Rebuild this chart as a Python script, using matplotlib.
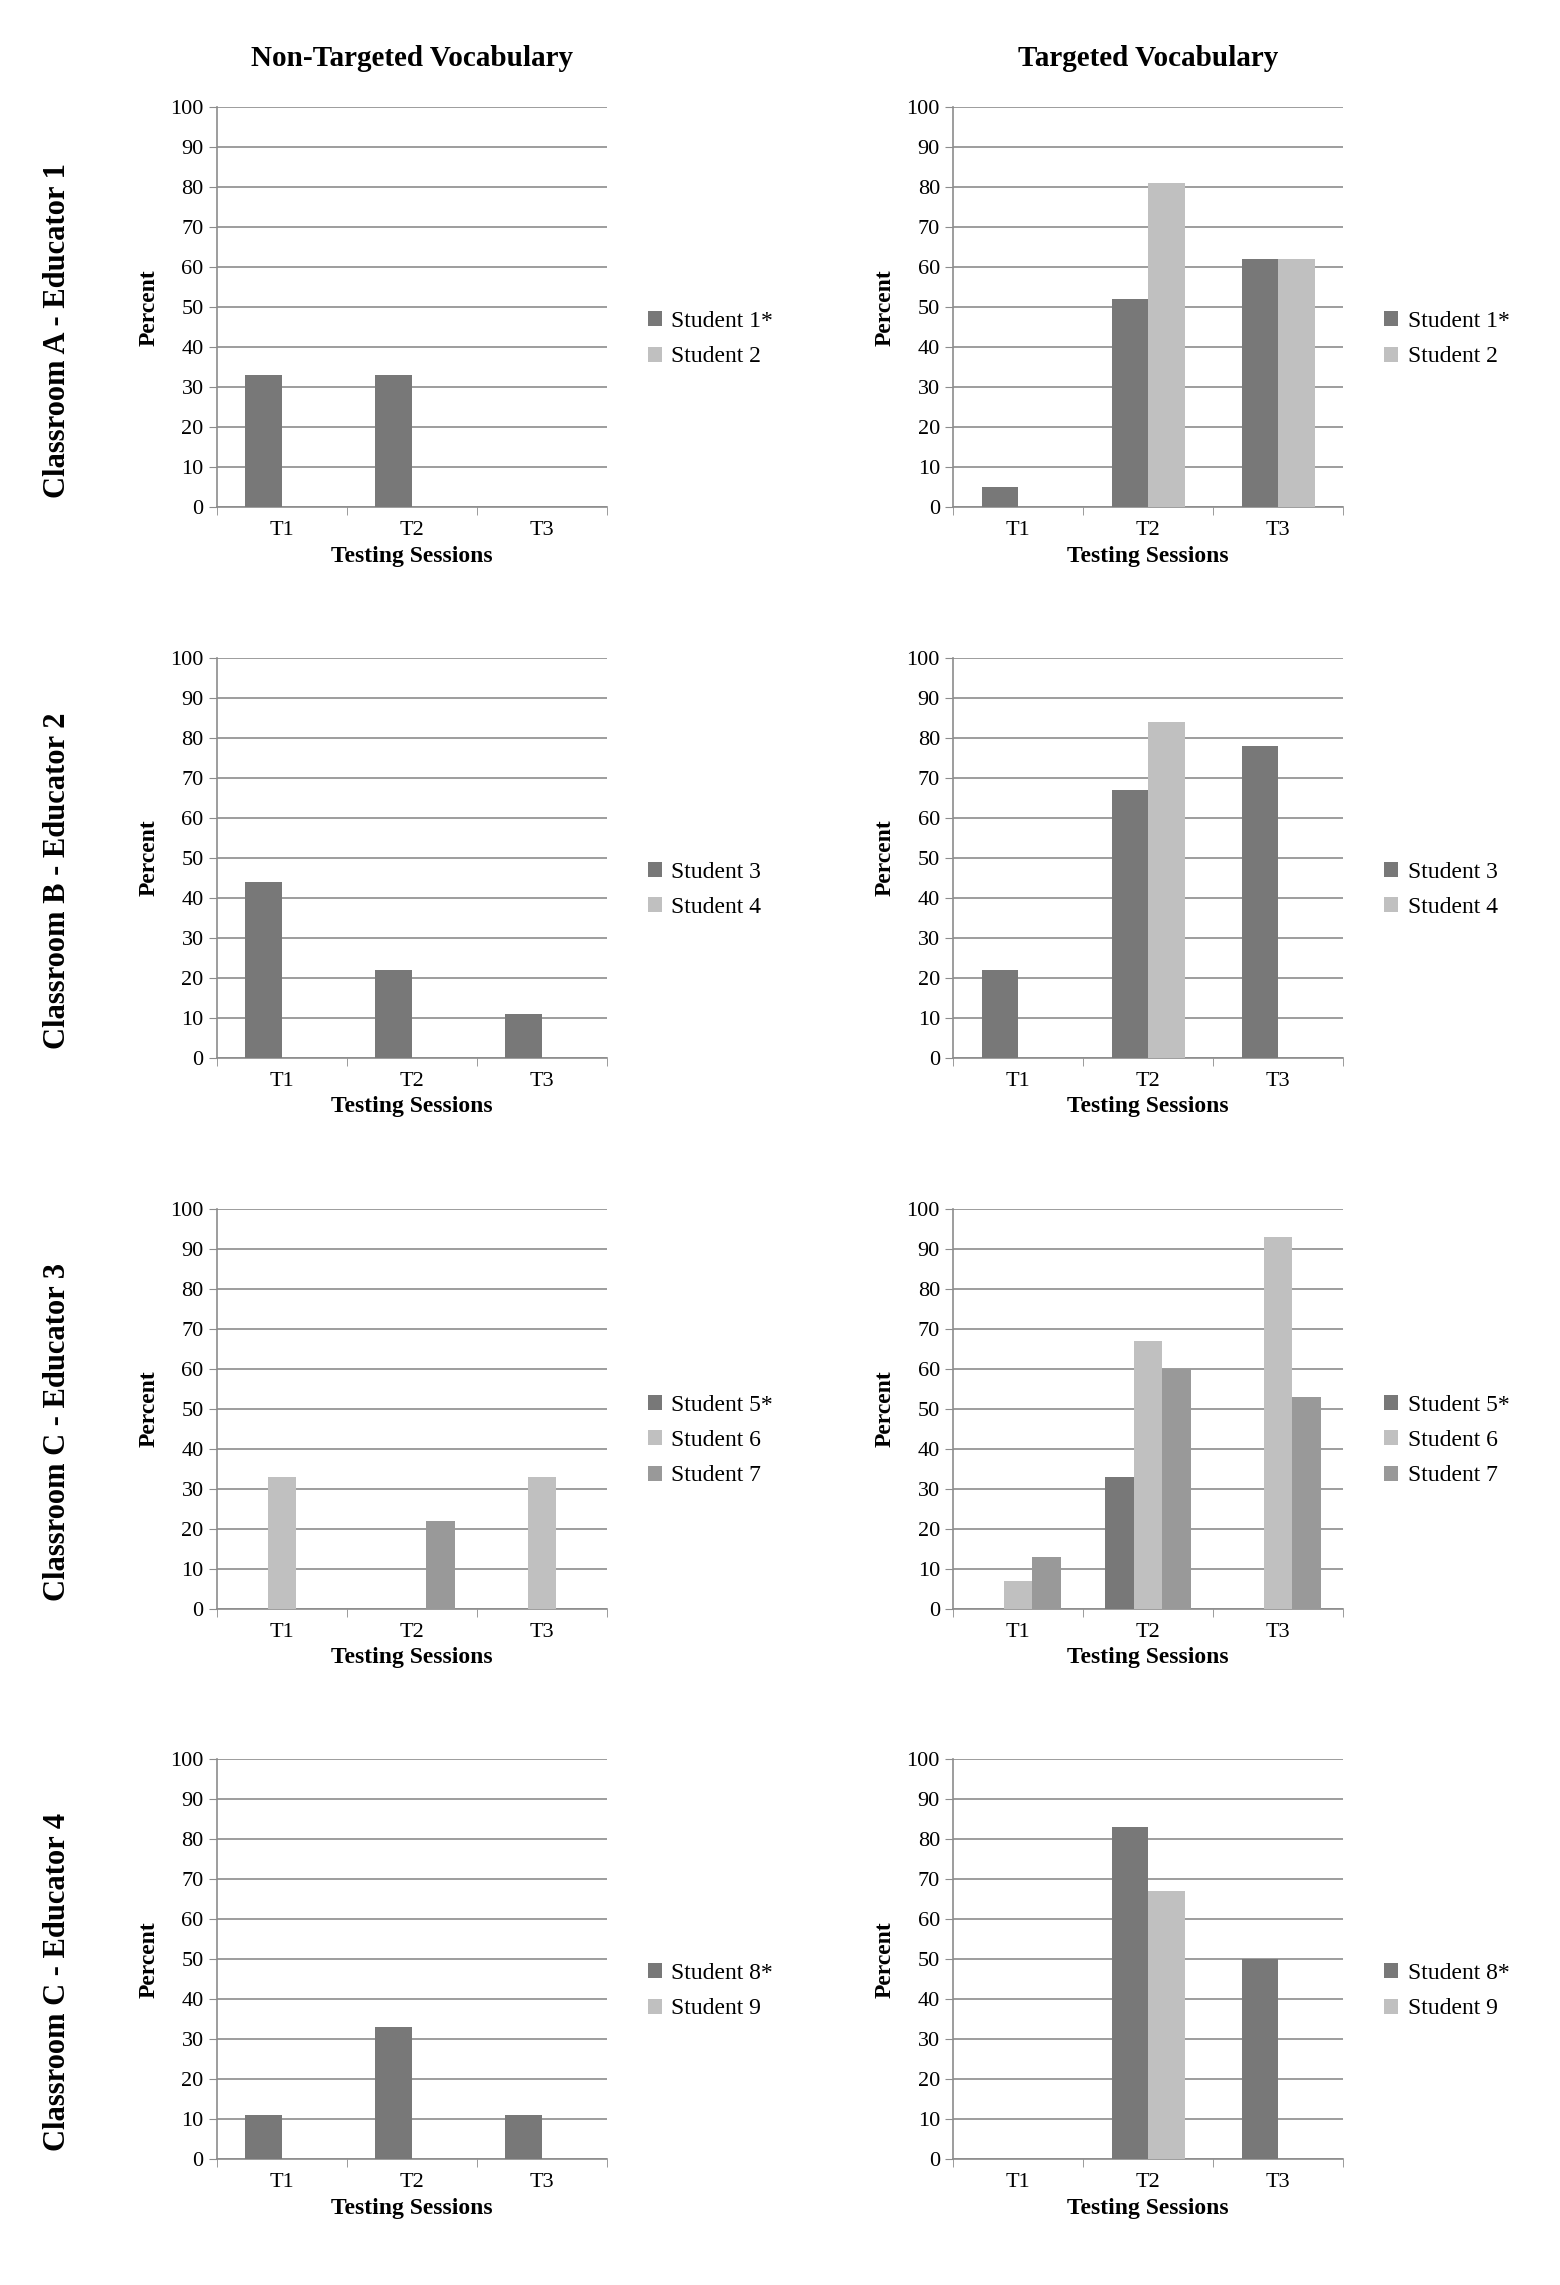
import numpy as np
import matplotlib.pyplot as plt

plt.rcParams['font.family'] = ['Liberation Serif', 'DejaVu Serif']

sessions = ["T1", "T2", "T3"]
row_labels = ["Classroom A - Educator 1", "Classroom B - Educator 2",
              "Classroom C - Educator 3", "Classroom C - Educator 4"]
col_titles = ["Non-Targeted Vocabulary", "Targeted Vocabulary"]

# (student names, non-targeted values, targeted values)
rowA_students = ["Student 1*", "Student 2"]
rowA_nontarget = [[33, 33, 0], [0, 0, 0]]
rowA_target = [[5, 52, 62], [0, 81, 62]]

rowB_students = ["Student 3", "Student 4"]
rowB_nontarget = [[44, 22, 11], [0, 0, 0]]
rowB_target = [[22, 67, 78], [0, 84, 0]]

rowC_students = ["Student 5*", "Student 6", "Student 7"]
rowC_nontarget = [[0, 0, 0], [33, 0, 33], [0, 22, 0]]
rowC_target = [[0, 33, 0], [7, 67, 93], [13, 60, 53]]

rowD_students = ["Student 8*", "Student 9"]
rowD_nontarget = [[11, 33, 11], [0, 0, 0]]
rowD_target = [[0, 83, 50], [0, 67, 0]]

rows = [(rowA_students, rowA_nontarget, rowA_target),
        (rowB_students, rowB_nontarget, rowB_target),
        (rowC_students, rowC_nontarget, rowC_target),
        (rowD_students, rowD_nontarget, rowD_target)]

colors2 = ["#787878", "#c0c0c0"]
colors3 = ["#787878", "#c0c0c0", "#999999"]

fig = plt.figure(figsize=(15.6, 22.85), dpi=100)
lefts = [0.139, 0.611]
width, height = 0.25, 0.175
tops = [0.953 - i * 0.241 for i in range(4)]

x = np.arange(len(sessions))
for r, (students, nt, tg) in enumerate(rows):
    n = len(students)
    cols = colors2 if n == 2 else colors3
    bw = 0.28 if n == 2 else 0.22
    for c, data in enumerate([nt, tg]):
        ax = fig.add_axes([lefts[c], tops[r] - height, width, height])
        for k, (name, vals) in enumerate(zip(students, data)):
            off = (k - (n - 1) / 2) * bw
            ax.bar(x + off, vals, bw, color=cols[k], label=name, zorder=3)
        ax.set_ylim(0, 100)
        ax.set_xlim(-0.5, 2.5)
        ax.set_yticks(range(0, 101, 10))
        ax.yaxis.grid(True, color="#8c8c8c", linewidth=1.2, zorder=0)
        ax.set_xticks(x)
        ax.set_xticklabels(sessions)
        ax.set_xticks([-0.5, 0.5, 1.5, 2.5], minor=True)
        ax.tick_params(axis="x", which="major", length=0, labelsize=16, pad=10)
        ax.tick_params(axis="x", which="minor", length=6, color="#8c8c8c")
        ax.tick_params(axis="y", length=6, color="#8c8c8c", labelsize=16)
        for s in ["top", "right"]:
            ax.spines[s].set_visible(False)
        for s in ["left", "bottom"]:
            ax.spines[s].set_color("#8c8c8c")
            ax.spines[s].set_linewidth(1.2)
        ax.set_xlabel("Testing Sessions", fontsize=17, fontweight="bold")
        ax.set_ylabel("Percent", fontsize=17, fontweight="bold", labelpad=8)
        ax.legend(loc="center left", bbox_to_anchor=(1.05, 0.42), frameon=False,
                  fontsize=17, handlelength=0.6, handleheight=0.6,
                  handletextpad=0.4, labelspacing=0.6)
        if r == 0:
            ax.set_title(col_titles[c], fontsize=21, fontweight="bold", pad=30)
    fig.text(0.037, tops[r] - height / 2 - 0.01, row_labels[r], rotation=90,
             ha="center", va="center", fontsize=22, fontweight="bold")

fig.savefig("out.png", dpi=100)
